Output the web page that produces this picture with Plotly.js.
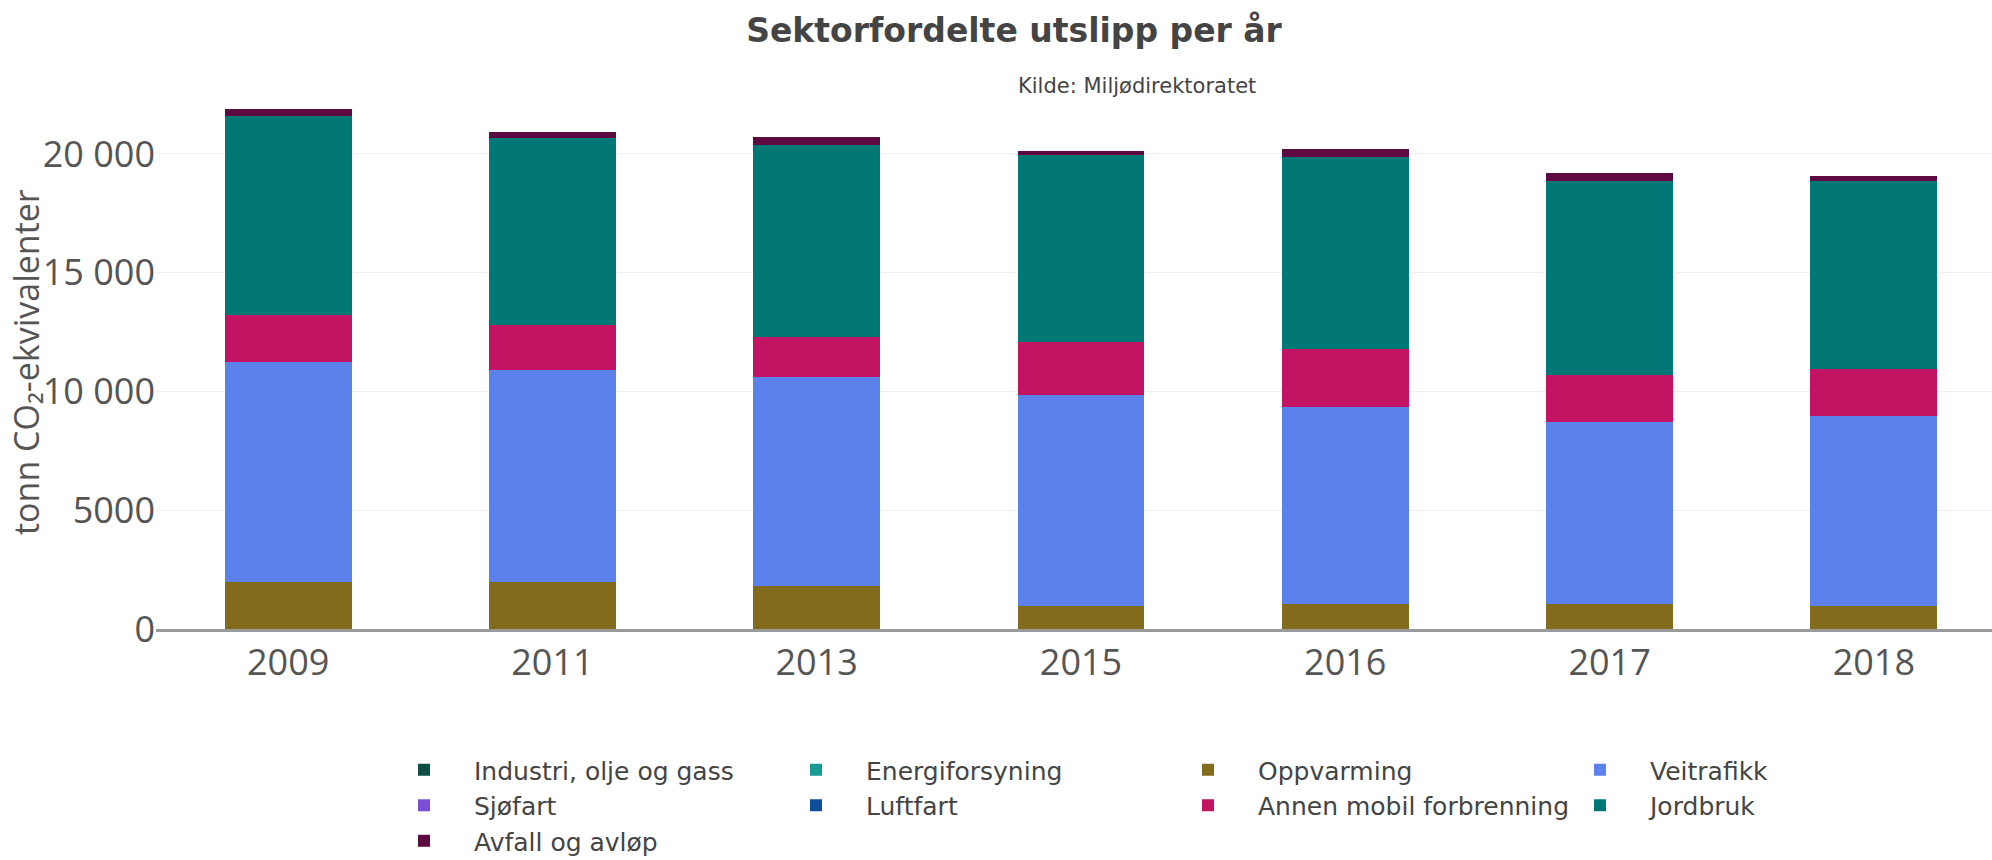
<!DOCTYPE html>
<html>
<head>
<meta charset="utf-8">
<script src="https://cdn.plot.ly/plotly-3.0.1.min.js"></script>
<style>
html,body{margin:0;padding:0;overflow:hidden;background:#fff;}
#chart{width:2006px;height:860px;}
</style>
</head>
<body>
<div id="chart"></div>
<script>
const years = ["2009", "2011", "2013", "2015", "2016", "2017", "2018"];

const industri = [10, 10, 10, 10, 10, 10, 10];
const energiforsyning = [0, 0, 0, 0, 0, 0, 0];
const oppvarming = [1950, 1960, 1820, 960, 1050, 1050, 960];
const veitrafikk = [9280, 8940, 8770, 8880, 8270, 7670, 8000];
const sjofart = [0, 0, 0, 0, 0, 0, 0];
const luftfart = [0, 0, 0, 0, 0, 0, 0];
const annenMobil = [1970, 1870, 1710, 2250, 2440, 1960, 1960];
const jordbruk = [8380, 7910, 8070, 7860, 8090, 8150, 7910];
const avfall = [300, 250, 330, 160, 350, 340, 240];

const seriesNames = ["Industri, olje og gass", "Energiforsyning", "Oppvarming", "Veitrafikk",
  "Sjøfart", "Luftfart", "Annen mobil forbrenning", "Jordbruk", "Avfall og avløp"];
const seriesColors = ["#0e4f43", "#189a95", "#836b1e", "#5b82eb",
  "#7a4fd5", "#0f4c9b", "#c21462", "#017875", "#5c0a40"];
const seriesValues = [industri, energiforsyning, oppvarming, veitrafikk,
  sjofart, luftfart, annenMobil, jordbruk, avfall];

const yTickVals = [0, 5000, 10000, 15000, 20000];
const yTickText = ["0", "5000", "10 000", "15 000", "20 000"];

const traces = seriesNames.map((name, i) => ({
  type: "bar",
  name: name,
  x: years,
  y: seriesValues[i],
  marker: {color: seriesColors[i], line: {width: 0}},
  hovertemplate: "%{y}<extra>" + name + "</extra>"
}));

const W = 2006, H = 860;

const layout = {
  width: W,
  height: H,
  barmode: "stack",
  bargap: 0.52,
  paper_bgcolor: "#fff",
  plot_bgcolor: "#fff",
  margin: {l: 156, r: 0, t: 95, b: 231, autoexpand: false},
  title: {
    text: "<b>Sektorfordelte utslipp per år</b>",
    font: {family: "DejaVu Sans, Verdana, sans-serif", size: 33, color: "#444"},
    x: 1014 / W, xanchor: "center",
    y: 1 - 30 / H, yanchor: "middle",
    xref: "container", yref: "container"
  },
  xaxis: {
    type: "category",
    tickfont: {family: "Open Sans, sans-serif", size: 36, color: "#555"},
    showline: true, linecolor: "#9a9a9a", linewidth: 3,
    showgrid: false, ticks: "", automargin: false
  },
  yaxis: {
    range: [0, 22480],
    tickvals: yTickVals,
    ticktext: yTickText,
    tickfont: {family: "Open Sans, sans-serif", size: 36, color: "#555"},
    showgrid: true, gridcolor: "#eeeeee", gridwidth: 1,
    zeroline: false, showline: false, ticks: "", automargin: false
  },
  legend: {
    orientation: "h",
    xref: "container", yref: "container",
    x: 374 / W, xanchor: "left",
    y: 1 - 747 / H, yanchor: "top",
    entrywidth: 287, entrywidthmode: "pixels",
    itemwidth: 90,
    traceorder: "normal",
    font: {family: "DejaVu Sans, Verdana, sans-serif", size: 25, color: "#444"},
    tracegroupgap: 0
  },
  annotations: [
    {
      text: "Kilde: Miljødirektoratet",
      xref: "paper", yref: "paper",
      x: (1137 - 156) / (W - 156), y: 1 + (95 - 86) / 534,
      xanchor: "center", yanchor: "middle",
      showarrow: false,
      font: {family: "DejaVu Sans, Verdana, sans-serif", size: 21, color: "#444"}
    },
    {
      text: "tonn CO₂-ekvivalenter",
      xref: "paper", yref: "paper",
      x: 0, xshift: -(156 - 26), y: 0.5, yshift: 0,
      xanchor: "center", yanchor: "middle",
      textangle: -90,
      showarrow: false,
      font: {family: "Open Sans, sans-serif", size: 34, color: "#555"}
    }
  ]
};

Plotly.newPlot("chart", traces, layout, {displayModeBar: false, responsive: false});
</script>
</body>
</html>
